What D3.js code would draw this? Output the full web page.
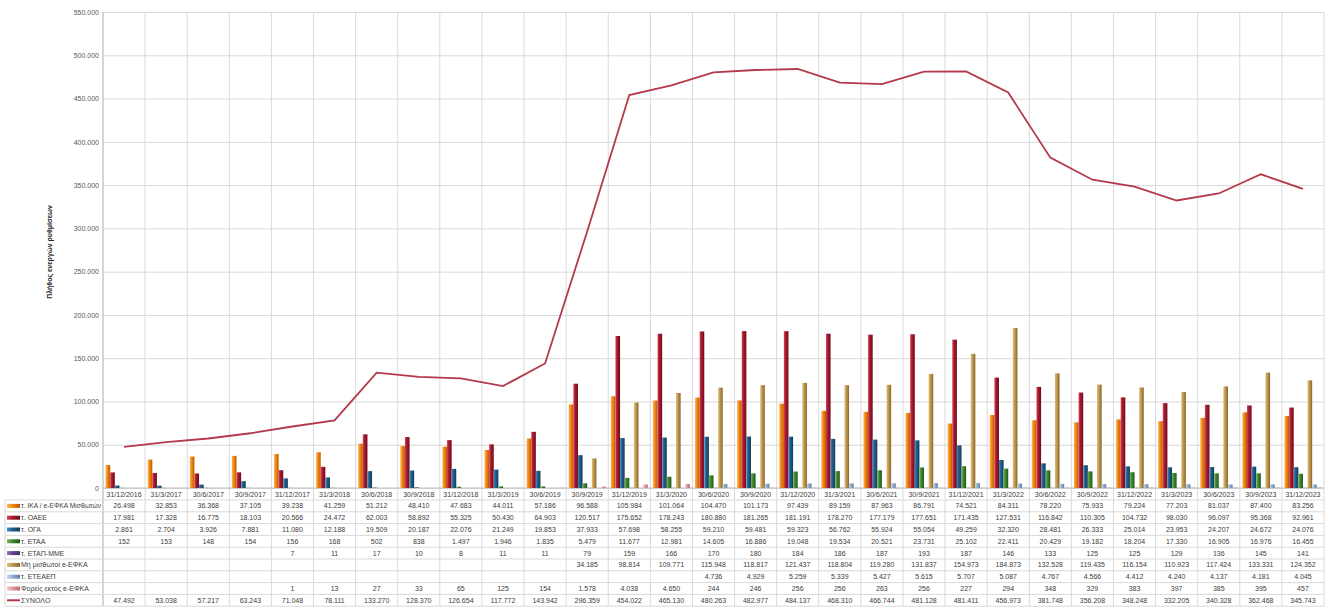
<!DOCTYPE html>
<html>
<head>
<meta charset="utf-8">
<script src="https://cdn.jsdelivr.net/npm/d3@7"></script>
<style>
  body { margin: 0; background: #fff; }
  text { font-family: "Liberation Sans", Arial, sans-serif; }
</style>
</head>
<body>
<div id="app"></div>
<script>
// Quarter-end dates (categories)
var dates = ["31/12/2016", "31/3/2017", "30/6/2017", "30/9/2017", "31/12/2017", "31/3/2018", "30/6/2018",
  "30/9/2018", "31/12/2018", "31/3/2019", "30/6/2019", "30/9/2019", "31/12/2019", "31/3/2020", "30/6/2020",
  "30/9/2020", "31/12/2020", "31/3/2021", "30/6/2021", "30/9/2021", "31/12/2021", "31/3/2022", "30/6/2022",
  "30/9/2022", "31/12/2022", "31/3/2023", "30/6/2023", "30/9/2023", "31/12/2023"];

var ika = [26498, 32853, 36368, 37105, 39238, 41259, 51212, 48410, 47683, 44011, 57186, 96588, 105984, 101064,
  104470, 101173, 97439, 89159, 87963, 86791, 74521, 84311, 78220, 75933, 79224, 77203, 81037, 87400, 83256];
var oaee = [17981, 17328, 16775, 18103, 20566, 24472, 62003, 58892, 55325, 50430, 64903, 120517, 175652, 178243,
  180880, 181265, 181191, 178270, 177179, 177651, 171435, 127531, 116842, 110305, 104732, 98030, 96097, 95368, 92961];
var oga = [2861, 2704, 3926, 7881, 11080, 12188, 19509, 20187, 22076, 21249, 19853, 37933, 57698, 58255,
  59210, 59481, 59323, 56762, 55924, 55054, 49259, 32320, 28481, 26333, 25014, 23953, 24207, 24672, 24076];
var etaa = [152, 153, 148, 154, 156, 168, 502, 838, 1497, 1946, 1835, 5479, 11677, 12981,
  14605, 16886, 19048, 19534, 20521, 23731, 25102, 22411, 20429, 19182, 18204, 17330, 16905, 16976, 16455];
var etap = [null, null, null, null, 7, 11, 17, 10, 8, 11, 11, 79, 159, 166,
  170, 180, 184, 186, 187, 193, 187, 146, 133, 125, 125, 129, 136, 145, 141];
var mhMisth = [null, null, null, null, null, null, null, null, null, null, null, 34185, 98814, 109771,
  115948, 118817, 121437, 118804, 119280, 131837, 154973, 184873, 132528, 119435, 116154, 110923, 117424, 133331, 124352];
var eteaep = [null, null, null, null, null, null, null, null, null, null, null, null, null, null,
  4736, 4929, 5259, 5339, 5427, 5615, 5707, 5087, 4767, 4566, 4412, 4240, 4137, 4181, 4045];
var foreis = [null, null, null, null, 1, 13, 27, 33, 65, 125, 154, 1578, 4038, 4650,
  244, 246, 256, 256, 263, 256, 227, 294, 348, 329, 383, 397, 385, 395, 457];
var synolo = [47492, 53038, 57217, 63243, 71048, 78111, 133270, 128370, 126654, 117772, 143942, 296359, 454022, 465130,
  480263, 482977, 484137, 468310, 466744, 481128, 481411, 456973, 381748, 356208, 348248, 332205, 340328, 362468, 345743];

var seriesNames = ["τ. ΙΚΑ / e-ΕΦΚΑ Μισθωτών", "τ. ΟΑΕΕ", "τ. ΟΓΑ", "τ. ΕΤΑΑ", "τ. ΕΤΑΠ-ΜΜΕ",
  "Μη μισθωτοί e-ΕΦΚΑ", "τ. ΕΤΕΑΕΠ", "Φορείς εκτός e-ΕΦΚΑ"];
var seriesValues = [ika, oaee, oga, etaa, etap, mhMisth, eteaep, foreis];
var totalName = "ΣΥΝΟΛΟ";
var yTicks = [0, 50000, 100000, 150000, 200000, 250000, 300000, 350000, 400000, 450000, 500000, 550000];

// light / base / dark shades for the bar gradients
var barShades = [
  ["#ffb05a", "#f58a12", "#b85a00"],
  ["#d64558", "#a8182f", "#6e0c1c"],
  ["#4a8fc2", "#1f5f8d", "#123b5a"],
  ["#78b85a", "#3f8a2e", "#24561a"],
  ["#9a78c4", "#6a449a", "#432a66"],
  ["#e2bf7c", "#c29a52", "#87662c"],
  ["#c4d6ea", "#93b1d2", "#5f7fa4"],
  ["#f6c4c8", "#e69aa2", "#b86a73"]
];
var lineColor = "#b3394b";

var width = 1335, height = 607;
var plotLeft = 103, plotRight = 1324, plotTop = 12, plotBottom = 488;
var tableTop = 500, rowH = 11.8, tableLeft = 5;

var fmt = d3.formatLocale({ decimal: ",", thousands: ".", grouping: [3], currency: ["", "€"] }).format(",d");

var svg = d3.select("#app")
  .append("svg")
  .attr("width", width)
  .attr("height", height);

var defs = svg.append("defs");
barShades.forEach(function (s, i) {
  var g = defs.append("linearGradient")
    .attr("id", "grad" + i)
    .attr("x1", 0).attr("x2", 1).attr("y1", 0).attr("y2", 0);
  g.append("stop").attr("offset", "0%").attr("stop-color", s[0]);
  g.append("stop").attr("offset", "40%").attr("stop-color", s[1]);
  g.append("stop").attr("offset", "100%").attr("stop-color", s[2]);
});

// Scales
var x = d3.scaleBand().domain(dates).range([plotLeft, plotRight]);
var bw = x.bandwidth();
var xs = d3.scaleBand().domain(d3.range(seriesNames.length)).range([2.6, bw - 2.6]);
var y = d3.scaleLinear().domain([0, 550000]).range([plotBottom, plotTop]);

// Horizontal gridlines + y tick labels
var yAxis = svg.append("g")
  .attr("transform", "translate(" + plotLeft + ",0)")
  .call(d3.axisLeft(y).tickValues(yTicks).tickSize(-(plotRight - plotLeft)).tickPadding(4).tickFormat(fmt));
yAxis.select(".domain").remove();
yAxis.selectAll("line").attr("stroke", "#d9d9d9").attr("stroke-width", 1);
yAxis.selectAll("text").attr("fill", "#595959").style("font-size", "7px");

// Vertical gridlines through plot and table
var boundaries = dates.map(d => x(d)).concat([plotRight]);
svg.append("g").selectAll("line")
  .data(boundaries)
  .enter().append("line")
  .attr("x1", d => d).attr("x2", d => d)
  .attr("y1", plotTop).attr("y2", tableTop + rowH * 9)
  .attr("stroke", "#d9d9d9");

// Axis lines
svg.append("line")
  .attr("x1", plotLeft).attr("x2", plotLeft)
  .attr("y1", plotTop).attr("y2", tableTop + rowH * 9)
  .attr("stroke", "#bfbfbf");
svg.append("line")
  .attr("x1", plotLeft).attr("x2", plotRight)
  .attr("y1", plotBottom).attr("y2", plotBottom)
  .attr("stroke", "#bfbfbf");

// Bars
seriesValues.forEach(function (vals, si) {
  svg.append("g").selectAll("rect")
    .data(vals.map((v, i) => ({ date: dates[i], v: v })).filter(d => d.v !== null))
    .enter().append("rect")
    .attr("x", d => x(d.date) + xs(si))
    .attr("width", xs.bandwidth())
    .attr("y", d => y(d.v))
    .attr("height", d => plotBottom - y(d.v))
    .attr("fill", "url(#grad" + si + ")");
});

// Total line
var line = d3.line()
  .x((d, i) => x(dates[i]) + bw / 2)
  .y(d => y(d));
svg.append("path")
  .datum(synolo)
  .attr("d", line)
  .attr("fill", "none")
  .attr("stroke", lineColor)
  .attr("stroke-width", 1.8);

// Y axis title
svg.append("text")
  .attr("transform", "translate(52,252) rotate(-90)")
  .attr("text-anchor", "middle")
  .style("font-size", "7px")
  .style("font-weight", "bold")
  .attr("fill", "#262626")
  .text("Πλήθος ενεργών ρυθμίσεων");

// Data table: header dates
svg.append("g").selectAll("text")
  .data(dates)
  .enter().append("text")
  .attr("x", d => x(d) + bw / 2)
  .attr("y", plotBottom + 8.8)
  .attr("text-anchor", "middle")
  .style("font-size", "7px")
  .attr("fill", "#404040")
  .text(d => d);

// Table row lines
svg.append("g").selectAll("line")
  .data(d3.range(10))
  .enter().append("line")
  .attr("x1", tableLeft).attr("x2", plotRight)
  .attr("y1", d => tableTop + d * rowH).attr("y2", d => tableTop + d * rowH)
  .attr("stroke", "#d9d9d9");
svg.append("line")
  .attr("x1", tableLeft).attr("x2", tableLeft)
  .attr("y1", tableTop).attr("y2", tableTop + rowH * 9)
  .attr("stroke", "#d9d9d9");

// Table rows: legend key, label and values
var rows = seriesValues.concat([synolo]);
var rowNames = seriesNames.concat([totalName]);
rows.forEach(function (vals, ri) {
  var cy = tableTop + ri * rowH + rowH / 2;
  if (ri < seriesNames.length) {
    svg.append("rect")
      .attr("x", 7).attr("y", cy - 2)
      .attr("width", 13).attr("height", 4)
      .attr("fill", "url(#grad" + ri + ")");
  } else {
    svg.append("line")
      .attr("x1", 7).attr("x2", 20).attr("y1", cy).attr("y2", cy)
      .attr("stroke", lineColor).attr("stroke-width", 2);
  }
  var label = svg.append("text")
    .attr("x", 21).attr("y", cy + 2.5)
    .style("font-size", "7px")
    .attr("fill", "#404040")
    .text(rowNames[ri]);
  // squeeze long labels into the label column
  if (label.node().getComputedTextLength() > 80) {
    label.attr("textLength", 80).attr("lengthAdjust", "spacingAndGlyphs");
  }
  svg.append("g").selectAll("text")
    .data(vals.map((v, i) => ({ date: dates[i], v: v })).filter(d => d.v !== null))
    .enter().append("text")
    .attr("x", d => x(d.date) + bw / 2)
    .attr("y", cy + 2.5)
    .attr("text-anchor", "middle")
    .style("font-size", "7px")
    .attr("fill", "#404040")
    .text(d => fmt(d.v));
});
</script>
</body>
</html>
